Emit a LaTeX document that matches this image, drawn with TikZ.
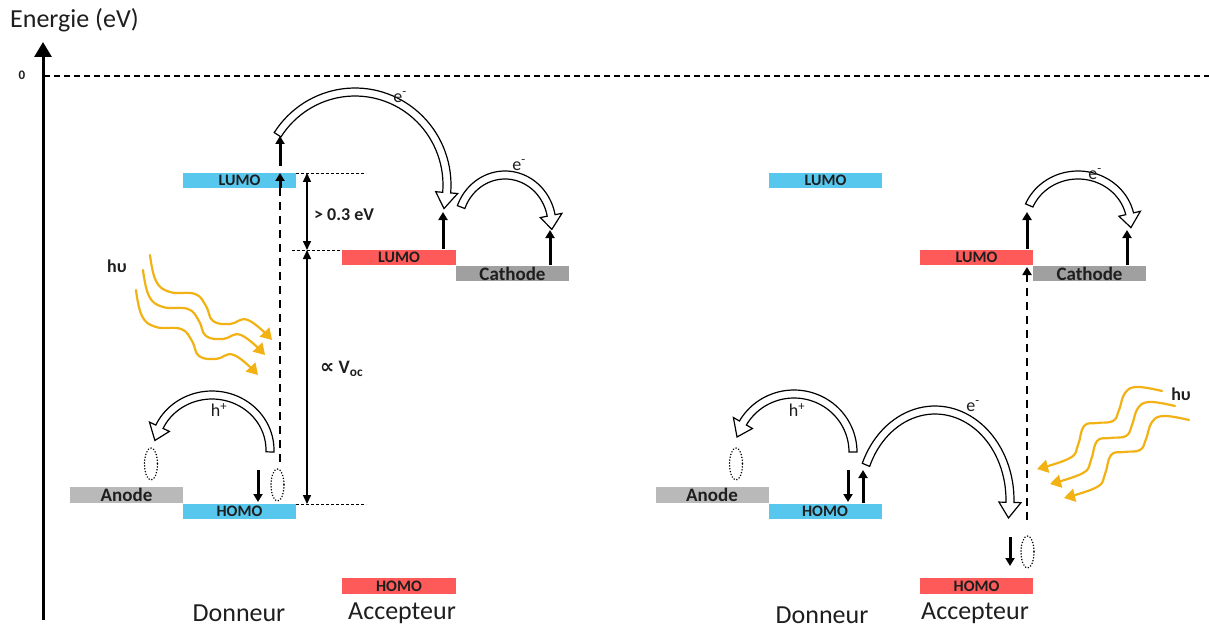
\documentclass[tikz,border=0pt]{standalone}
\usepackage{fontspec}
\setmainfont{Carlito}
\newfontfamily\dvs{DejaVu Sans}
\usetikzlibrary{arrows.meta}
\definecolor{donblue}{RGB}{87,199,238}
\definecolor{accred}{RGB}{255,90,90}
\definecolor{cathgray}{RGB}{160,160,160}
\definecolor{anodegray}{RGB}{185,185,185}
\definecolor{photon}{RGB}{242,178,20}
\definecolor{txt}{RGB}{30,30,30}
\newcommand\fs[1]{\fontsize{#1}{#1}\selectfont}
\tikzset{
  bar/.style={minimum width=113pt, minimum height=15pt, inner sep=0pt, outer sep=0pt, text=txt, font=\fs{16}\bfseries},
  elec/.style={bar, font=\fs{19}\bfseries},
  blk/.style={line width=3pt, -{Triangle[width=9pt,length=8pt]}},
  vdash/.style={line width=2pt, dash pattern=on 8pt off 6pt},
  hdash/.style={line width=0.8pt, dash pattern=on 3pt off 2pt},
  dbl/.style={line width=1.5pt, {Triangle[width=8pt,length=9pt]}-{Triangle[width=8pt,length=9pt]}},
  dotell/.style={line width=1.6pt, dash pattern=on 0.1pt off 2.8pt, line cap=round},
  hollow/.style={draw=black, fill=white, line width=1.2pt, line join=miter},
  photonline/.style={draw=photon, line width=2.2pt, line cap=round, -{Triangle[width=13pt,length=11pt]}},
  lbl/.style={inner sep=0pt, text=txt}
}
% hollow curved arrow: cx cy rx ry a1 a2 headangle(signed)
\newcommand\harrow[7]{%
  \pgfmathsetmacro\hb{#6-#7}%
  \draw[hollow] plot[domain=#5:\hb, samples=50] ({#1+(#3+4)*cos(\x)},{#2+(#4+4)*sin(\x)})
   -- ({#1+(#3+11)*cos(\hb)},{#2+(#4+11)*sin(\hb)})
   -- ({#1+(#3)*cos(#6)},{#2+(#4)*sin(#6)})
   -- ({#1+(#3-11)*cos(\hb)},{#2+(#4-11)*sin(\hb)})
   -- ({#1+(#3-4)*cos(\hb)},{#2+(#4-4)*sin(\hb)})
   -- plot[domain=\hb:#5, samples=50] ({#1+(#3-4)*cos(\x)},{#2+(#4-4)*sin(\x)})
   -- cycle;}
\newcommand\wavel{plot[smooth, tension=0.7] coordinates {(150,255) (156,281) (170,292) (195,294) (206,306) (213,321) (230,324) (248,320) (272,340)}}
\newcommand\waver{plot[smooth, tension=0.7] coordinates {(1162,391) (1137,387) (1125,393) (1119,410) (1113,421) (1097,423) (1084,426) (1078,445) (1070,458) (1037,469)}}
\begin{document}
\begin{tikzpicture}[x=1pt,y=-1pt]
\fill[white] (0,0) rectangle (1209,631);
\useasboundingbox (0,0) rectangle (1209,631);

% axis
\coordinate (axb) at (43,620);
\coordinate (axt) at (43,42);
\draw[line width=3pt, -{Triangle[width=17pt,length=15pt]}] (axb) -- (axt);
\node[lbl, font=\fs{26}, anchor=west] (en) at (10,20) {Energie (eV)};
\node[lbl, font=\fs{13}\bfseries] (zero) at (22,75) {0};
\coordinate (z0) at (44,76);
\coordinate (z1) at (1209,76);
\draw[line width=2pt, dash pattern=on 6pt off 4pt] (z0) -- (z1);

% ===== left panel bars =====
\node[bar, fill=donblue] (dLa) at (239.5,180.5) {LUMO};
\node[bar, fill=donblue] (dHa) at (239.5,511.5) {HOMO};
\node[bar, fill=accred, minimum width=114pt] (aLa) at (399,257.5) {LUMO};
\node[bar, fill=accred, minimum width=114pt, minimum height=16pt] (aHa) at (399,586) {HOMO};
\node[elec, fill=cathgray] (ca) at (512.5,273.5) {Cathode};
\node[elec, fill=anodegray, minimum height=16pt] (ana) at (126.5,495) {Anode};

\node[lbl, font=\fs{26}] (dona) at (239,613) {Donneur};
\node[lbl, font=\fs{26}] (acca) at (402,613) {Accepteur};

% energy difference markers
\draw[hdash] (dLa.north east) -- ++(70,0) coordinate (t1);
\draw[hdash] (292,250) -- (aLa.north west);
\draw[hdash] (dHa.north east) -- ++(70,0) coordinate (t3);
\coordinate (v1) at (307,173);
\coordinate (v2) at (307,250);
\coordinate (v3) at (307,504);
\draw[dbl] (v1) -- (v2);
\draw[dbl] (v2) -- (v3);
\node[lbl, font=\fs{18}\bfseries, anchor=west] (gap) at (314,215) {> 0.3 eV};
\node[lbl, font=\fs{19}\bfseries, anchor=west] (voc) at (320,369) {{\dvs\fs{20}\bfseries ∝} V\textsubscript{oc}};

% excitation
\coordinate (ex0) at (280,462);
\coordinate (ex1) at (280,188);
\coordinate (ex2) at (280,173);
\draw[vdash] (ex0) -- (ex1);
\draw[blk] (ex1) -- (ex2);
\coordinate (ex3) at (280,166);
\coordinate (ex4) at (280,136);
\draw[blk] (ex3) -- (ex4);
\coordinate (h0) at (258,470);
\coordinate (h1) at (258,502);
\draw[blk] (h0) -- (h1);
\coordinate (u0) at (443,249);
\coordinate (u1) at (443,212);
\draw[blk] (u0) -- (u1);
\coordinate (u2) at (550,265);
\coordinate (u3) at (550,230);
\draw[blk] (u2) -- (u3);

\draw[dotell] (277.5,485) ellipse [x radius=6.5, y radius=16];
\draw[dotell] (151,464) ellipse [x radius=6.5, y radius=16];

% hollow arrows left
\harrow{355}{185}{92}{93}{212.7}{374.7}{10}
\node[lbl, font=\fs{18}] (ea1) at (400,97) {e\textsuperscript{-}};
\harrow{505}{225}{47}{50}{201}{365}{16}
\node[lbl, font=\fs{18}] (ea2) at (519,165) {e\textsuperscript{-}};
\harrow{212}{450}{58}{55}{2}{-170}{-15}
\node[lbl, font=\fs{18}] (ha) at (219,410) {h\textsuperscript{+}};

% photons left
\draw[photonline] \wavel;
\draw[photonline, shift={(-7,15)}] \wavel;
\draw[photonline, shift={(-14,35)}] \wavel;
\node[lbl, font=\fs{18}\bfseries] (hva) at (117,266) {hυ};

% ===== right panel bars =====
\node[bar, fill=donblue] (dLb) at (825.5,180.5) {LUMO};
\node[bar, fill=donblue] (dHb) at (825,511.5) {HOMO};
\node[bar, fill=accred] (aLb) at (976.5,257.5) {LUMO};
\node[bar, fill=accred, minimum height=16pt] (aHb) at (976.5,586) {HOMO};
\node[elec, fill=cathgray] (cb) at (1089.5,273.5) {Cathode};
\node[elec, fill=anodegray, minimum height=16pt] (anb) at (712,495) {Anode};

\node[lbl, font=\fs{26}] (donb) at (822,615) {Donneur};
\node[lbl, font=\fs{26}] (accb) at (975,613) {Accepteur};

\coordinate (r0) at (1027,520);
\coordinate (r1) at (1027,267);
\draw[vdash, -{Triangle[width=9pt,length=8pt]}] (r0) -- (r1);
\coordinate (r2) at (1027,249);
\coordinate (r3) at (1027,212);
\draw[blk] (r2) -- (r3);
\coordinate (r4) at (1127,265);
\coordinate (r5) at (1127,230);
\draw[blk] (r4) -- (r5);
\coordinate (r6) at (1010,537);
\coordinate (r7) at (1010,566);
\draw[blk] (r6) -- (r7);
\coordinate (r8) at (848,470);
\coordinate (r9) at (848,502);
\draw[blk] (r8) -- (r9);
\coordinate (r10) at (863,503);
\coordinate (r11) at (863,470);
\draw[blk] (r10) -- (r11);

\draw[dotell] (1027.5,552) ellipse [x radius=6.5, y radius=16];
\draw[dotell] (736,464) ellipse [x radius=6.5, y radius=16];

\harrow{794}{452}{59}{58}{0}{-165}{-15}
\node[lbl, font=\fs{18}] (hb) at (797,410) {h\textsuperscript{+}};
\harrow{935}{500}{75}{90}{203}{371.5}{10}
\node[lbl, font=\fs{18}] (eb1) at (973,406) {e\textsuperscript{-}};
\harrow{1078}{225}{53}{50}{203}{363}{16}
\node[lbl, font=\fs{18}] (eb2) at (1095,174) {e\textsuperscript{-}};

\draw[photonline] \waver;
\draw[photonline, shift={(13,15)}] \waver;
\draw[photonline, shift={(27,29)}] \waver;
\node[lbl, font=\fs{18}\bfseries] (hvb) at (1181,394) {hυ};
\end{tikzpicture}
\end{document}
